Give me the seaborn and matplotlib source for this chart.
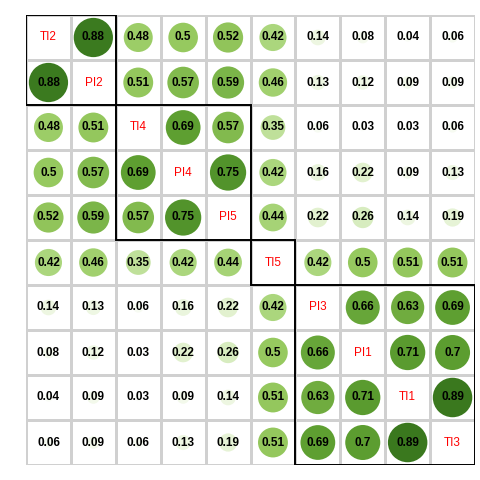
import numpy as np
import pandas as pd
import matplotlib
matplotlib.use("Agg")
import matplotlib.pyplot as plt
from matplotlib.patches import Rectangle
from matplotlib.colors import LinearSegmentedColormap
import seaborn as sns

labels = ["TI2", "PI2", "TI4", "PI4", "PI5", "TI5", "PI3", "PI1", "TI1", "TI3"]
corr = [
    [1.00, 0.88, 0.48, 0.50, 0.52, 0.42, 0.14, 0.08, 0.04, 0.06],
    [0.88, 1.00, 0.51, 0.57, 0.59, 0.46, 0.13, 0.12, 0.09, 0.09],
    [0.48, 0.51, 1.00, 0.69, 0.57, 0.35, 0.06, 0.03, 0.03, 0.06],
    [0.50, 0.57, 0.69, 1.00, 0.75, 0.42, 0.16, 0.22, 0.09, 0.13],
    [0.52, 0.59, 0.57, 0.75, 1.00, 0.44, 0.22, 0.26, 0.14, 0.19],
    [0.42, 0.46, 0.35, 0.42, 0.44, 1.00, 0.42, 0.50, 0.51, 0.51],
    [0.14, 0.13, 0.06, 0.16, 0.22, 0.42, 1.00, 0.66, 0.63, 0.69],
    [0.08, 0.12, 0.03, 0.22, 0.26, 0.50, 0.66, 1.00, 0.71, 0.70],
    [0.04, 0.09, 0.03, 0.09, 0.14, 0.51, 0.63, 0.71, 1.00, 0.89],
    [0.06, 0.09, 0.06, 0.13, 0.19, 0.51, 0.69, 0.70, 0.89, 1.00],
]
cluster_sizes = [2, 3, 1, 4]

n = len(labels)
mat = np.array(corr)

# long format for off-diagonal cells
rows = []
for i in range(n):
    for j in range(n):
        if i != j:
            rows.append({"x": j + 0.5, "y": i + 0.5, "r": mat[i, j]})
df = pd.DataFrame(rows)

greens = LinearSegmentedColormap.from_list(
    "greens_corr",
    [(0.0, "#ffffff"), (0.22, "#e2f1cf"), (0.42, "#abd67d"), (0.5, "#97c95f"),
     (0.69, "#5e9f31"), (0.88, "#3b7a1f"), (1.0, "#2c6415")])

fig = plt.figure(figsize=(4.8, 4.8), dpi=100)
ax = fig.add_axes([26 / 480, 15 / 480, 449 / 480, 450 / 480])

# white grid of cells
sns.heatmap(np.zeros((n, n)), ax=ax, cmap=["white"], cbar=False,
            linewidths=1, linecolor="#d0d0d0", square=False,
            xticklabels=False, yticklabels=False)

cell_pt = 45 * 72 / 100
sns.scatterplot(data=df, x="x", y="y", hue="r", palette=greens, hue_norm=(0, 1),
                size="r", sizes=(0, (cell_pt * 0.93) ** 2), size_norm=(0, 1),
                linewidth=0, legend=False, ax=ax, zorder=3)

for _, row in df.iterrows():
    txt = f"{row.r:.2f}"
    if txt.endswith("0"):
        txt = txt[:-1]
    ax.text(row.x, row.y, txt, ha="center", va="center", fontsize=8.5,
            fontweight="bold", family="Liberation Sans", color="black", zorder=4)

for i, lab in enumerate(labels):
    ax.text(i + 0.5, i + 0.5, lab, ha="center", va="center", fontsize=8.5,
            family="Liberation Sans", color="red", zorder=4)

start = 0
for s in cluster_sizes:
    ax.add_patch(Rectangle((start, start), s, s, fill=False, edgecolor="black",
                           linewidth=1.4, zorder=5))
    start += s

ax.set_xlim(0, n)
ax.set_ylim(n, 0)
ax.set_xlabel("")
ax.set_ylabel("")
for sp in ax.spines.values():
    sp.set_visible(False)

fig.savefig("out.png", dpi=100, facecolor="white")
